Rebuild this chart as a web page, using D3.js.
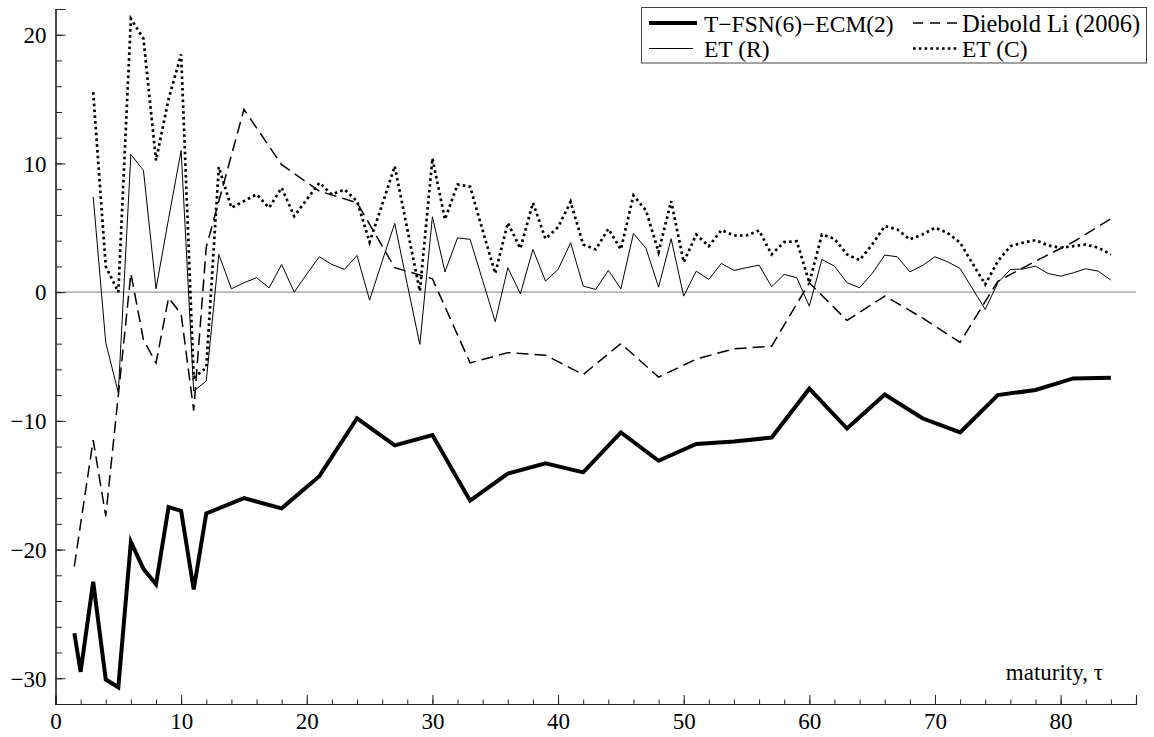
<!DOCTYPE html>
<html>
<head>
<meta charset="utf-8">
<script src="https://cdn.jsdelivr.net/npm/d3@7"></script>
<style>
  html, body { margin: 0; padding: 0; background: #fff; }
  svg { display: block; }
  text { font-family: "Liberation Serif", "Times New Roman", serif; fill: #000; }
</style>
</head>
<body>
<svg id="chart" width="1154" height="737"></svg>
<script>
// Maturities (months) for the model and Diebold–Li curves
const maturityModel = [1.5, 2, 3, 4, 5, 6, 7, 8, 9, 10, 11, 12, 15, 18, 21, 24, 27, 30, 33, 36,
  39, 42, 45, 48, 51, 54, 57, 60, 63, 66, 69, 72, 75, 78, 81, 84];

const tfsnEcm = [-26.5, -29.5, -22.5, -30.1, -30.7, -19.4, -21.5, -22.7, -16.7, -17.0, -23.1, -17.2,
  -16.0, -16.8, -14.3, -9.8, -11.9, -11.1, -16.2, -14.1, -13.3, -14.0, -10.9, -13.1, -11.8, -11.6,
  -11.3, -7.5, -10.6, -7.95, -9.8, -10.9, -8.0, -7.6, -6.7, -6.65];

const dieboldLi = [-21.3, -18.0, -11.5, -17.4, -8.0, 1.45, -3.7, -5.5, -0.44, -1.7, -9.2, 3.5,
  14.2, 9.9, 7.85, 6.95, 1.9, 1.04, -5.5, -4.7, -4.9, -6.4, -4.0, -6.6, -5.2, -4.4, -4.2, 0.73,
  -2.2, -0.3, -2.0, -3.9, 0.85, 2.4, 3.9, 5.7];

// Maturities (months) for the ET curves
const maturityET = [3, 4, 5, 6, 7, 8, 9, 10, 11, 12, 13, 14, 15, 16, 17, 18, 19, 20, 21, 22, 23,
  24, 25, 26, 27, 28, 29, 30, 31, 32, 33, 34, 35, 36, 37, 38, 39, 40, 41, 42, 43, 44, 45, 46, 47,
  48, 49, 50, 51, 52, 53, 54, 55, 56, 57, 58, 59, 60, 61, 62, 63, 64, 65, 66, 67, 68, 69, 70, 71,
  72, 73, 74, 75, 76, 77, 78, 79, 80, 81, 82, 83, 84];

const etR = [7.41, -3.93, -7.82, 10.7, 9.46, 0.26, 5.7, 11.0, -7.69, -6.9, 2.93, 0.26, 0.73, 1.12,
  0.34, 2.15, 0.0, 1.4, 2.75, 2.15, 1.77, 2.85, -0.62, 2.4, 5.34, 0.6, -4.06, 5.86, 1.58, 4.22, 4.1,
  0.9, -2.3, 1.9, -0.13, 3.32, 0.86, 1.76, 3.84, 0.47, 0.21, 1.69, 0.26, 4.56, 3.4, 0.39, 4.15,
  -0.31, 1.63, 0.99, 2.23, 1.69, 1.9, 2.1, 0.42, 1.38, 1.12, -1.09, 2.54, 2.02, 0.73, 0.34, 1.45,
  2.88, 2.75, 1.58, 2.07, 2.75, 2.36, 1.84, 0.25, -1.34, 0.73, 1.76, 1.8, 2.02, 1.45, 1.24, 1.5,
  1.82, 1.63, 0.93];

const etC = [15.54, 2.0, 0.0, 21.24, 19.7, 10.23, 15.0, 18.47, -6.65, -5.88, 9.72, 6.56, 7.07, 7.6,
  6.56, 8.11, 5.9, 7.2, 8.5, 7.59, 7.98, 7.07, 3.89, 6.8, 9.79, 4.9, 0.08, 10.4, 5.65, 8.37, 8.19,
  4.8, 1.45, 5.39, 3.39, 6.94, 4.15, 5.05, 7.02, 3.7, 3.32, 4.92, 3.32, 7.51, 6.35, 3.11, 7.07,
  2.33, 4.48, 3.57, 4.82, 4.4, 4.4, 4.79, 2.93, 3.89, 3.96, 0.73, 4.48, 4.15, 2.93, 2.49, 3.7,
  5.13, 4.87, 4.1, 4.48, 5.0, 4.61, 3.84, 2.2, 0.6, 2.4, 3.57, 3.84, 4.04, 3.63, 3.45, 3.57, 3.7,
  3.45, 2.93];

const xMajorTicks = [0, 10, 20, 30, 40, 50, 60, 70, 80];
const yMajorTicks = [-30, -20, -10, 0, 10, 20];
const seriesNames = ["T\u2212FSN(6)\u2212ECM(2)", "Diebold Li (2006)", "ET (R)", "ET (C)"];
const axisTitle = "maturity, \u03c4";

const svg = d3.select("#chart");
const plotLeft = 55.5, plotRight = 1136, plotTop = 9, plotBottom = 704;

const x = d3.scaleLinear().domain([0, 86]).range([plotLeft, plotRight]);
const y = d3.scaleLinear().domain([-32, 22]).range([plotBottom, plotTop]);

// zero reference line
svg.append("line")
  .attr("x1", plotLeft).attr("x2", plotRight)
  .attr("y1", y(0)).attr("y2", y(0))
  .attr("stroke", "#b3b3b3").attr("stroke-width", 1.6);

// axes: minor ticks every 2, major ticks labelled
const fontSize = 23;
const xMinor = d3.axisBottom(x).tickValues(d3.range(0, 87, 2)).tickSize(-4.5).tickFormat("");
const xMajor = d3.axisBottom(x).tickValues(xMajorTicks).tickSize(-9).tickPadding(9).tickFormat(d3.format("d"));
const yMinor = d3.axisLeft(y).tickValues(d3.range(-32, 23, 2)).tickSize(-6.5).tickFormat("");
const yMajor = d3.axisLeft(y).tickValues(yMajorTicks).tickSize(-10).tickPadding(9)
  .tickFormat(d => d < 0 ? "\u2212" + Math.abs(d) : String(d));

function styleAxis(g) {
  g.select(".domain").attr("stroke", "#222").attr("stroke-width", 1.1);
  g.selectAll(".tick line").attr("stroke", "#222").attr("stroke-width", 1);
  g.selectAll("text").attr("font-size", fontSize)
    .attr("font-family", "'Liberation Serif', 'Times New Roman', serif").attr("fill", "#000");
}

svg.append("g").attr("transform", `translate(0,${plotBottom})`).call(xMinor).call(styleAxis);
svg.append("g").attr("transform", `translate(0,${plotBottom})`).call(xMajor).call(styleAxis);
svg.append("g").attr("transform", `translate(${plotLeft},0)`).call(yMinor).call(styleAxis);
svg.append("g").attr("transform", `translate(${plotLeft},0)`).call(yMajor).call(styleAxis)
  .selectAll("text").attr("dy", "0.34em");

svg.append("text")
  .attr("x", 1103).attr("y", 680)
  .attr("text-anchor", "end").attr("font-size", fontSize)
  .text(axisTitle);

// series lines
const line = d3.line().x(d => x(d[0])).y(d => y(d[1]));
const styles = [
  { width: 4, dash: null },
  { width: 1.5, dash: "12,6" },
  { width: 1, dash: null },
  { width: 2.7, dash: "2.6,3.2" }
];
const series = [
  d3.zip(maturityModel, tfsnEcm),
  d3.zip(maturityModel, dieboldLi),
  d3.zip(maturityET, etR),
  d3.zip(maturityET, etC)
];

[2, 3, 1, 0].forEach(i => {
  svg.append("path")
    .datum(series[i])
    .attr("fill", "none")
    .attr("stroke", "#000")
    .attr("stroke-width", styles[i].width)
    .attr("stroke-dasharray", styles[i].dash)
    .attr("stroke-linejoin", "miter")
    .attr("d", line);
});

// legend
const legend = svg.append("g");
legend.append("rect")
  .attr("x", 641.5).attr("y", 7.5).attr("width", 505).attr("height", 55.5)
  .attr("fill", "#fff").attr("stroke", "#444").attr("stroke-width", 1);

const legendItems = [
  { i: 0, sx: 649, tx: 704, ty: 31.5 },
  { i: 1, sx: 913, tx: 962, ty: 31.5 },
  { i: 2, sx: 649, tx: 704, ty: 57 },
  { i: 3, sx: 913, tx: 962, ty: 57 }
];
legendItems.forEach(it => {
  const len = it.i === 0 ? 48 : 44;
  legend.append("line")
    .attr("x1", it.sx).attr("x2", it.sx + len)
    .attr("y1", it.ty - 8.5).attr("y2", it.ty - 8.5)
    .attr("stroke", "#000")
    .attr("stroke-width", styles[it.i].width)
    .attr("stroke-dasharray", it.i === 1 ? "10,7" : styles[it.i].dash);
  legend.append("text")
    .attr("x", it.tx).attr("y", it.ty)
    .attr("font-size", it.i === 1 ? 24.5 : 23.5)
    .text(seriesNames[it.i]);
});
</script>
</body>
</html>
